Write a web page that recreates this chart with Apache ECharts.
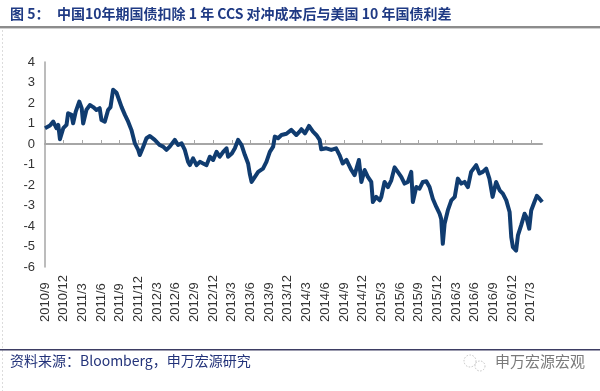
<!DOCTYPE html>
<html>
<head>
<meta charset="utf-8">
<script src="https://cdn.jsdelivr.net/npm/echarts@6/dist/echarts.min.js"></script>
<style>
html,body{margin:0;padding:0;background:#fff;}
#chart{width:600px;height:391px;}
</style>
</head>
<body>
<div id="chart"></div>
<script>
const dates = [
'2010-09-01','2010-09-25','2010-10-11','2010-10-27','2010-11-05','2010-11-13','2010-11-29','2010-12-15','2010-12-23',
'2011-01-09','2011-01-17','2011-01-30','2011-02-15','2011-02-26','2011-03-05','2011-03-21','2011-04-07','2011-04-23',
'2011-05-09','2011-05-25','2011-06-03','2011-06-19','2011-07-05','2011-07-17','2011-07-30','2011-08-16','2011-08-24',
'2011-09-10','2011-09-26','2011-10-12','2011-10-28','2011-11-14','2011-11-30','2011-12-08','2011-12-25',
'2012-01-10','2012-01-27','2012-02-19','2012-03-14','2012-03-31','2012-04-16','2012-05-02','2012-05-27','2012-06-12',
'2012-06-29','2012-07-15','2012-07-31','2012-08-09','2012-08-25','2012-09-11','2012-09-27','2012-10-13','2012-10-30',
'2012-11-15','2012-12-01','2012-12-18','2013-01-03','2013-01-20','2013-02-05','2013-02-12','2013-03-01','2013-03-16',
'2013-04-01','2013-04-18','2013-05-04','2013-05-20','2013-05-28','2013-06-06','2013-06-22','2013-07-08','2013-08-01',
'2013-08-18','2013-09-04','2013-09-20','2013-09-28','2013-10-14','2013-10-31','2013-11-24','2013-12-18','2014-01-12',
'2014-01-28','2014-02-06','2014-02-22','2014-03-13','2014-04-02','2014-04-18','2014-05-04','2014-05-12','2014-06-06',
'2014-06-30','2014-07-24','2014-08-10','2014-08-26','2014-09-13','2014-10-07','2014-10-23','2014-11-13','2014-11-25',
'2014-12-11','2014-12-27','2015-01-13','2015-01-21','2015-02-06','2015-02-22','2015-03-01','2015-03-17','2015-04-03',
'2015-04-19','2015-05-05','2015-05-21','2015-06-07','2015-06-23','2015-07-09','2015-07-26','2015-08-03','2015-08-20',
'2015-09-05','2015-09-21','2015-10-08','2015-10-24','2015-11-09','2015-11-26','2015-12-12','2015-12-20','2015-12-28',
'2016-01-06','2016-01-22','2016-02-08','2016-02-24','2016-03-10','2016-03-27','2016-04-12','2016-04-28','2016-05-14',
'2016-06-08','2016-06-24','2016-07-10','2016-07-27','2016-08-12','2016-08-28','2016-09-14','2016-10-01','2016-10-17',
'2016-11-03','2016-11-19','2016-11-27','2016-12-05','2016-12-21','2016-12-30','2017-01-15','2017-02-01','2017-02-09',
'2017-02-22','2017-03-03','2017-03-19','2017-03-31','2017-04-13','2017-04-26'
];
const spreadValues = [
0.77,0.90,1.09,0.77,0.93,0.23,0.77,0.93,1.50,
1.42,1.01,1.58,2.07,1.75,1.00,1.66,1.90,1.80,
1.66,1.75,1.17,1.09,1.66,1.80,2.65,2.50,2.58,
1.80,1.42,1.09,0.69,0.03,-0.29,-0.54,-0.13,
0.28,0.39,0.20,-0.05,-0.13,-0.29,-0.13,0.20,-0.05,
0.03,-0.29,-0.87,-1.03,-0.70,-1.03,-0.87,-0.95,-1.03,
-0.62,-0.78,-0.38,-0.62,-0.38,-0.21,-0.62,-0.46,-0.21,
0.20,-0.05,-0.54,-0.95,-1.44,-1.85,-1.60,-1.36,-1.20,
-0.87,-0.38,-0.13,0.36,0.28,0.44,0.50,0.69,0.44,
0.60,0.72,0.52,0.88,0.60,0.44,0.20,-0.26,-0.21,
-0.29,-0.21,-0.54,-0.95,-0.78,-1.27,-1.52,-0.78,-1.85,
-1.27,-1.60,-1.85,-2.83,-2.58,-2.75,-2.58,-1.85,-2.10,
-1.77,-1.14,-1.36,-1.60,-1.93,-1.85,-1.36,-2.83,-2.10,
-2.18,-1.85,-1.82,-2.10,-2.67,-3.07,-3.40,-3.65,-4.87,
-3.89,-3.24,-2.75,-2.58,-1.69,-1.93,-1.85,-2.10,-1.36,
-1.03,-1.44,-1.36,-1.20,-1.69,-2.58,-1.85,-2.26,-2.42,
-2.75,-3.32,-4.54,-5.03,-5.20,-4.46,-3.97,-3.40,-3.56,
-4.13,-3.24,-2.83,-2.53,-2.67,-2.83
];
const yTicks = [4,3,2,1,0,-1,-2,-3,-4,-5,-6];
const titleLabel = '图 5：';
const titleText = '中国10年期国债扣除 1 年 CCS 对冲成本后与美国 10 年国债利差';
const sourceText = '资料来源：Bloomberg，申万宏源研究';
const brandText = '申万宏源宏观';

// month offset from 2010/9
function monthIndex(s){
  const p = s.split('-').map(Number);
  const dim = new Date(p[0], p[1], 0).getDate();
  return (p[0]-2010)*12 + (p[1]-9) + (p[2]-1)/dim;
}
const seriesData = dates.map((d,i)=>[monthIndex(d), spreadValues[i]]);
const quarterTicks = [];
for (let m = 0; m <= 78; m += 3) quarterTicks.push(m);
function monthLabel(m){
  const t = 8 + Math.round(m);
  return (2010 + Math.floor(t/12)) + '/' + (t%12 + 1);
}

const chart = echarts.init(document.getElementById('chart'));
const navy = '#1f3a84';
chart.setOption({
  animation:false,
  backgroundColor:'#fff',
  grid:{left:45,right:58,top:62,bottom:124},
  xAxis:[{
    type:'value',min:0,max:79.8,
    axisLine:{show:false,onZero:false},
    axisTick:{show:false},
    splitLine:{show:false},
    axisLabel:{
      customValues:quarterTicks,
      rotate:90,align:'left',verticalAlign:'middle',margin:55,
      fontFamily:'Liberation Sans, Arial',fontSize:13,color:'#333',
      formatter:v=>monthLabel(v)
    }
  },{
    type:'value',min:0,max:79.8,position:'bottom',
    axisLine:{show:true,onZero:true,lineStyle:{color:'#a6a6a6',width:2}},
    axisTick:{show:true,inside:true,length:4,customValues:quarterTicks,lineStyle:{color:'#a6a6a6',width:1}},
    axisLabel:{show:false},
    splitLine:{show:false}
  }],
  yAxis:{
    type:'value',min:-6,max:4,interval:1,
    axisLine:{show:true,lineStyle:{color:'#a6a6a6',width:1.5}},
    axisTick:{show:false},
    splitLine:{show:false},
    axisLabel:{fontFamily:'Liberation Sans, Arial',fontSize:13,color:'#333',margin:10,
      customValues:yTicks}
  },
  series:[{
    type:'line',data:seriesData,showSymbol:false,
    lineStyle:{color:'#103c70',width:4,join:'round'},
    itemStyle:{color:'#103c70'}
  }],
  graphic:[
    {type:'text',left:10,top:7,style:{text:titleLabel,font:'bold 14px "Noto Sans CJK SC"',fill:navy}},
    {type:'text',left:57,top:7,style:{text:titleText,font:'bold 14px "Noto Sans CJK SC"',fill:navy}},
    {type:'rect',shape:{x:0,y:26,width:600,height:2},style:{fill:'#8c8c8c'}},
    {type:'rect',shape:{x:0,y:28,width:600,height:1},style:{fill:'#d0d0d0'}},
    {type:'line',shape:{x1:2.5,y1:30,x2:2.5,y2:391},style:{stroke:'#dcdcdc',lineWidth:1,lineDash:[2,2]}},
    {type:'rect',shape:{x:0,y:349,width:600,height:1.5},style:{fill:'#3d3d63'}},
    {type:'text',left:10,top:354,style:{text:sourceText,font:'14px "Noto Sans CJK SC"',fill:'#23337a'}},
    {type:'circle',shape:{cx:470,cy:361,r:6},style:{fill:'none',stroke:'#c4c4c4',lineWidth:1,lineDash:[1.5,1.5]}},
    {type:'circle',shape:{cx:480,cy:366,r:5},style:{fill:'none',stroke:'#c4c4c4',lineWidth:1,lineDash:[1.5,1.5]}},
    {type:'text',left:495,top:354,style:{text:brandText,font:'15px "Noto Sans CJK SC"',fill:'#7a7a7a'}}
  ]
});
</script>
</body>
</html>
